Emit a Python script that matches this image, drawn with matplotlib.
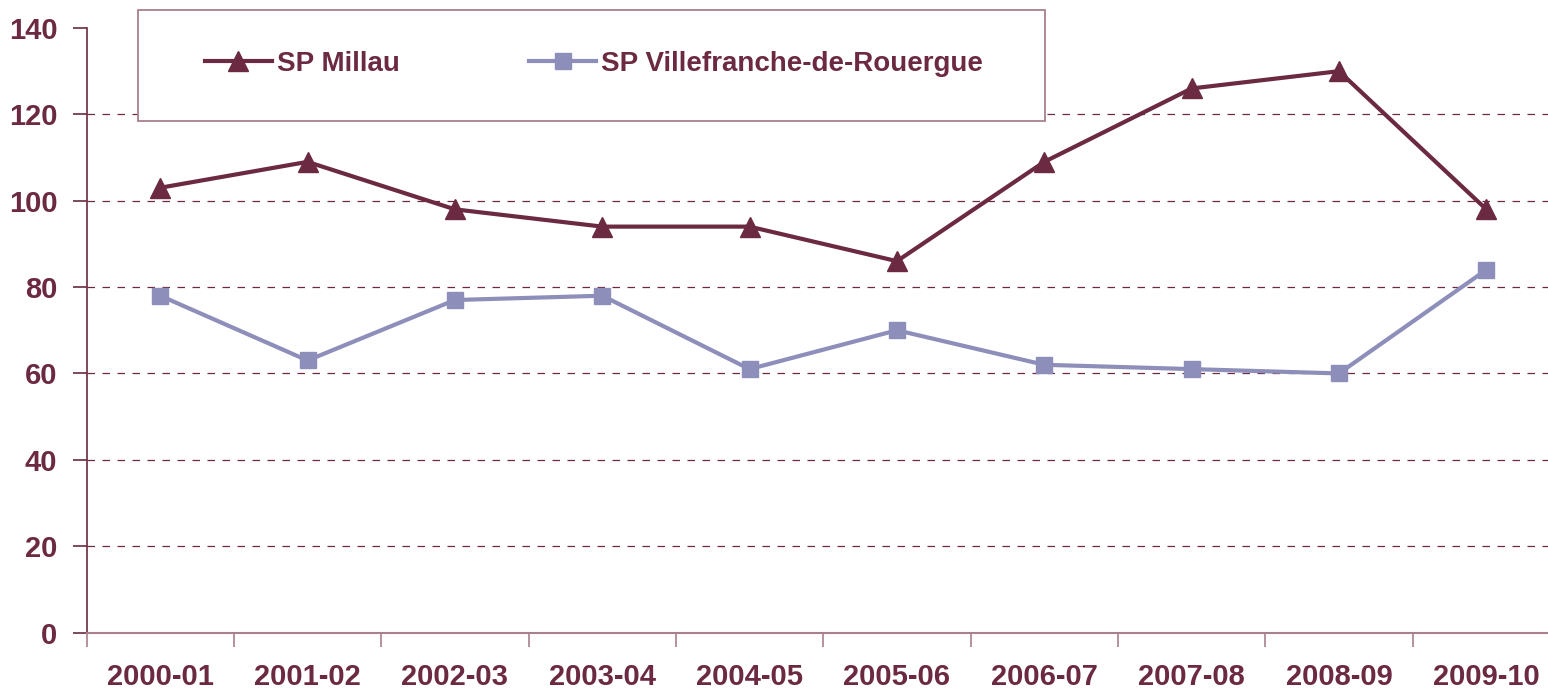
import matplotlib.pyplot as plt
from matplotlib.patches import Rectangle

# Data
seasons = ['2000-01', '2001-02', '2002-03', '2003-04', '2004-05',
           '2005-06', '2006-07', '2007-08', '2008-09', '2009-10']
millau = [103, 109, 98, 94, 94, 86, 109, 126, 130, 98]
villefranche = [78, 63, 77, 78, 61, 70, 62, 61, 60, 84]
y_ticks = [0, 20, 40, 60, 80, 100, 120, 140]

maroon = '#6B2A42'
lavender = '#8E8EBA'
axis_light = '#A8808E'

plt.rcParams['font.family'] = ['Liberation Sans', 'DejaVu Sans']
plt.rcParams['font.weight'] = 'bold'

W, H = 1548, 690
fig = plt.figure(figsize=(W / 100, H / 100), dpi=100)
# axes spans past the right edge of the picture, as in the reference
ax = fig.add_axes([86.5 / W, 1 - 632.5 / H, (1560 - 86.5) / W, (632.5 - 28) / H])

x = list(range(len(seasons)))
ax.plot(x, millau, color=maroon, lw=3, marker='^', ms=14, label='SP Millau', clip_on=False)
ax.plot(x, villefranche, color=lavender, lw=3, marker='s', ms=11,
        label='SP Villefranche-de-Rouergue', clip_on=False)

ax.set_xlim(-0.5, len(seasons) - 0.5)
ax.set_ylim(0, 140)
ax.set_yticks(y_ticks)
ax.set_xticks(x)
ax.set_xticklabels(seasons)
ax.set_xticks([i - 0.5 for i in range(len(seasons) + 1)], minor=True)
ax.tick_params(axis='x', which='major', length=0, pad=22, labelsize=21, labelcolor=maroon)
ax.tick_params(axis='x', which='minor', length=10, width=1.2, color=axis_light, direction='out')
ax.tick_params(axis='y', length=10, width=1.2, color=maroon, pad=11, labelsize=21, labelcolor=maroon)

ax.grid(axis='y', color=maroon, lw=0.9, linestyle=(0, (6, 6)))
ax.get_ygridlines()[-1].set_visible(False)
ax.get_ygridlines()[0].set_visible(False)
ax.set_axisbelow(True)
for side in ['top', 'right']:
    ax.spines[side].set_visible(False)
ax.spines['left'].set_color(maroon)
ax.spines['left'].set_linewidth(1.2)
ax.spines['bottom'].set_color(axis_light)
ax.spines['bottom'].set_linewidth(1.5)

# legend box
fig.patches.append(Rectangle((138 / W, 1 - 121 / H), (1045 - 138) / W, (121 - 10) / H,
                             transform=fig.transFigure, facecolor='white',
                             edgecolor=axis_light, lw=1.3, zorder=3))
leg = fig.legend(loc='center left', bbox_to_anchor=(205 / W, 1 - 64 / H), ncol=2,
                 frameon=False, borderpad=0, borderaxespad=0, handlelength=2.4,
                 handletextpad=0.2, columnspacing=4.65, fontsize=20)
leg.set_zorder(4)
for t in leg.get_texts():
    t.set_color(maroon)

fig.savefig('out.png', dpi=100)
